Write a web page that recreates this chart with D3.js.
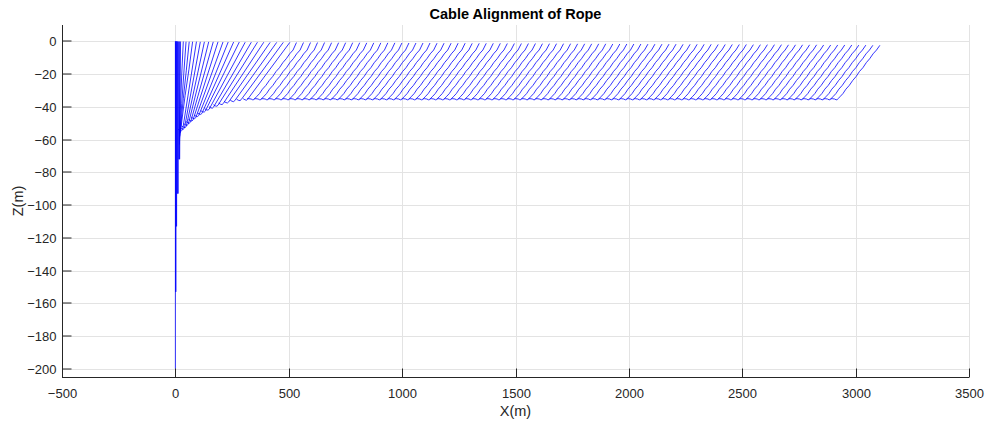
<!DOCTYPE html>
<html><head><meta charset="utf-8">
<script src="https://cdn.jsdelivr.net/npm/d3@7"></script>
<style>
html,body{margin:0;padding:0;background:#fff;}
svg{display:block;font-family:"Liberation Sans",Arial,Helvetica,sans-serif;}
</style></head><body>
<svg id="chart" width="988" height="423"></svg>
<script>
// ---------------- data ----------------
const chartTitle = "Cable Alignment of Rope";
const xLabel = "X(m)";
const yLabel = "Z(m)";
const xTicks = [-500, 0, 500, 1000, 1500, 2000, 2500, 3000, 3500];
const yTicks = [0, -20, -40, -60, -80, -100, -120, -140, -160, -180, -200];
const xDomain = [-500, 3500];
const yDomain = [-205, 10];

// first snapshots: rope still hanging near x = 0 (points x, z)
const hangingCables = [
  [[0, 0], [0, -200]],
  [[1, 0], [1, -153]],
  [[2.5, 0], [2.5, -153]],
  [[4, 0], [4, -113]],
  [[6, 0], [5.5, -113]],
  [[8, 0], [8, -93]],
  [[10, -0.1], [10, -93]],
  [[13, -0.1], [12.5, -93]],
  [[16, -0.1], [15, -72]],
  [[19, -0.1], [18, -72]],
  [[23, -0.1], [20, -40], [19, -72]],
  [[35, -0.1], [28, -20], [22, -42], [19, -56], [18, -63]],
  [[47, -0.2], [37, -20], [28, -38], [21, -54], [19, -58], [18, -60]],
  [[61, -0.2], [48, -18], [35, -35], [24, -51], [21, -56], [19, -58]],
  [[76, -0.2], [60, -17], [43, -33], [29, -48], [24, -54], [21, -56]]
];

// transition snapshots: [towX, towZ, bottomX, bottomZ]
const transientCables = [
  [93, -0.2, 32, -54], [110, -0.3, 40, -53], [128, -0.3, 48, -52],
  [147, -0.3, 57, -50.6], [167, -0.3, 67, -49.3], [188, -0.3, 78, -48],
  [210, -0.4, 90, -46.6], [233, -0.4, 103, -45.3], [257, -0.4, 117, -44],
  [282, -0.4, 132, -42.6], [308, -0.5, 149, -41.4], [335, -0.5, 168, -40.2],
  [362, -0.5, 188, -39], [390, -0.5, 211, -38], [418, -0.6, 235, -37],
  [447, -0.6, 262, -36.2], [476, -0.6, 290, -35.6], [505, -0.6, 319, -35.3]
];
// tail hook below each transient rope: offsets [dx, dz] from its bottom
const transientTail = [[-5, -0.6], [-12, -0.4], [-20, 0.3]];

// steady-state snapshots: tow-point positions and depths
const steadyTowX = [534,565,596,627,658,689,720,751,782,813,844,875,906,937,968,999,1030,1061,1092,1123,1154,1185,1216,1247,1278,1309,1340,1371,1402,1433,1464,1495,1526,1557,1588,1619,1650,1681,1712,1743,1774,1805,1836,1867,1898,1929,1960,1991,2022,2053,2084,2115,2146,2177,2208,2239,2270,2301,2332,2363,2394,2425,2456,2487,2518,2549,2580,2611,2642,2673,2704,2735,2766,2797,2828,2859,2890,2921,2952,2983,3014,3045,3076,3107];
const steadyTowZ = [
  -0.7,-0.7,-0.7,-0.7,-0.7, -0.8,-0.8,-0.8,-0.8,-0.8,
  -0.9,-0.9,-0.9,-0.9,-0.9, -1.0,-1.0,-1.0,-1.0,-1.0,
  -1.1,-1.1,-1.1,-1.1,-1.1, -1.2,-1.2,-1.2,-1.2,-1.2,
  -1.3,-1.3,-1.3,-1.3,-1.3, -1.4,-1.4,-1.4,-1.4,-1.4,
  -1.5,-1.5,-1.5,-1.5,-1.5, -1.6,-1.6,-1.6,-1.6,-1.6,
  -1.7,-1.7,-1.7,-1.7,-1.7, -1.8,-1.8,-1.8,-1.8,-1.8,
  -1.9,-1.9,-1.9,-1.9,-1.9, -2.0,-2.0,-2.0,-2.0,-2.0,
  -2.1,-2.1,-2.1,-2.1,-2.1, -2.2,-2.2,-2.2,-2.2,-2.2,
  -2.3,-2.3,-2.4,-2.4
];
// steady rope shape: [dx from tow point, z]; first point takes the tow depth
const steadyProfile = [[0, null], [-15, -5.3], [-30, -7.6], [-45, -10.6], [-60, -13.0],
  [-75, -16.1], [-90, -18.4], [-105, -21.5], [-120, -23.9], [-135, -26.9],
  [-150, -29.2], [-163, -31.9], [-174, -33.5], [-183, -34.8], [-188, -35.6],
  [-193, -35.7], [-200, -35.2], [-210, -35.0], [-218, -35.1]];

// ---------------- layout ----------------
const plot = {left: 62, right: 969, top: 25, bottom: 377};
const axisColor = "#262626", gridColor = "#e3e3e3", lineColor = "#0000ff";

const svg = d3.select("#chart");
const x = d3.scaleLinear().domain(xDomain).range([plot.left, plot.right]);
const y = d3.scaleLinear().domain(yDomain).range([plot.bottom, plot.top]);
const snap = v => Math.round(v) + 0.5;

// grid
const grid = svg.append("g");
grid.selectAll("line.gx").data(xTicks).join("line")
  .attr("x1", d => snap(x(d))).attr("x2", d => snap(x(d)))
  .attr("y1", plot.top).attr("y2", plot.bottom)
  .attr("stroke", gridColor).attr("stroke-width", 1);
grid.selectAll("line.gy").data(yTicks).join("line")
  .attr("y1", d => snap(y(d))).attr("y2", d => snap(y(d)))
  .attr("x1", plot.left).attr("x2", plot.right)
  .attr("stroke", gridColor).attr("stroke-width", 1);

// cables
const cables = [];
hangingCables.forEach(c => cables.push(c));
transientCables.forEach(([tx, tz, bx, bz]) => {
  const pts = [[tx, tz], [bx, bz]];
  transientTail.forEach(([dx, dz]) => pts.push([bx + dx, bz + dz]));
  cables.push(pts);
});
steadyTowX.forEach((tx, i) => {
  cables.push(steadyProfile.map(([dx, z]) => [tx + dx, z === null ? steadyTowZ[i] : z]));
});

const line = d3.line().x(d => x(d[0])).y(d => y(d[1]));
svg.append("g").selectAll("path").data(cables).join("path")
  .attr("d", line).attr("fill", "none")
  .attr("stroke", lineColor).attr("stroke-width", 0.8)
  .attr("stroke-linejoin", "round");

// axes
const xAxis = svg.append("g").attr("transform", `translate(0,${plot.bottom + 0.5})`)
  .call(d3.axisBottom(x).tickValues(xTicks).tickSize(-9).tickPadding(11).tickFormat(d3.format("d")));
const yAxis = svg.append("g").attr("transform", `translate(${plot.left + 0.5},0)`)
  .call(d3.axisLeft(y).tickValues(yTicks).tickSize(-9).tickPadding(6).tickFormat(d3.format("d")));
[xAxis, yAxis].forEach(g => {
  g.select(".domain").attr("stroke", axisColor).attr("d",
    g === xAxis ? `M${plot.left},0H${plot.right}` : `M0,${plot.top}V${plot.bottom}`);
  g.selectAll(".tick line").attr("stroke", axisColor);
  g.selectAll(".tick text").attr("fill", axisColor)
    .style("font-family", '"Liberation Sans",Arial,Helvetica,sans-serif').style("font-size", "13px");
});
xAxis.selectAll(".tick").attr("transform", d => `translate(${snap(x(d))},0)`);
yAxis.selectAll(".tick").attr("transform", d => `translate(0,${snap(y(d)) - 0.5})`);
yAxis.selectAll(".tick text").attr("dy", "0.4em");

// titles
svg.append("text").attr("x", (plot.left + plot.right) / 2).attr("y", 19)
  .attr("text-anchor", "middle").attr("font-weight", "bold").attr("font-size", 14.5)
  .attr("fill", "#000").text(chartTitle);
svg.append("text").attr("x", (plot.left + plot.right) / 2).attr("y", 416)
  .attr("text-anchor", "middle").attr("font-size", 14.5).attr("fill", axisColor).text(xLabel);
svg.append("text").attr("transform", `translate(23,${(plot.top + plot.bottom) / 2}) rotate(-90)`)
  .attr("text-anchor", "middle").attr("font-size", 14.5).attr("fill", axisColor).text(yLabel);
</script>
</body></html>
